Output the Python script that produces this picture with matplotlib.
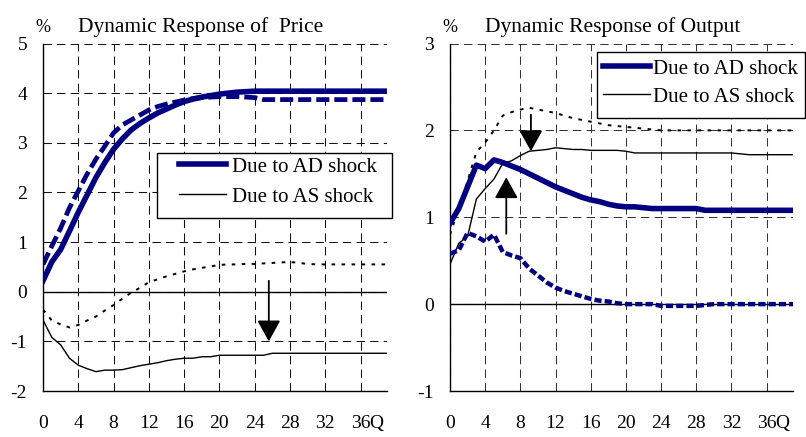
import matplotlib
matplotlib.use("Agg")
import matplotlib.pyplot as plt
from matplotlib.patches import Rectangle
from matplotlib.lines import Line2D
import numpy as np

plt.rcParams['font.family'] = ['Liberation Serif', 'DejaVu Serif']
plt.rcParams['lines.scale_dashes'] = False

# ---------------- data ----------------
quarters = list(range(40))
xticks = [0, 4, 8, 12, 16, 20, 24, 28, 32, 36]
xtick_labels = ['0', '4', '8', '12', '16', '20', '24', '28', '32', '36']

price_ad = [0.22, 0.60, 0.85, 1.22, 1.60, 1.95, 2.30, 2.60, 2.87, 3.08,
            3.26, 3.39, 3.50, 3.60, 3.68, 3.76, 3.83, 3.88, 3.92, 3.95,
            3.98, 4.00, 4.02, 4.03, 4.04, 4.04, 4.04, 4.04, 4.04, 4.04,
            4.04, 4.04, 4.04, 4.04, 4.04, 4.04, 4.04, 4.04, 4.04, 4.04]
price_ad_alt = [0.55, 0.92, 1.28, 1.69, 2.03, 2.37, 2.67, 2.93, 3.20, 3.36,
                3.46, 3.56, 3.66, 3.73, 3.78, 3.82, 3.86, 3.89, 3.91, 3.92,
                3.93, 3.93, 3.93, 3.92, 3.91, 3.87, 3.87, 3.87, 3.87, 3.87,
                3.87, 3.87, 3.87, 3.87, 3.87, 3.87, 3.87, 3.87, 3.87, 3.87]
price_as = [-0.57, -0.92, -1.07, -1.34, -1.48, -1.55, -1.61, -1.58, -1.58, -1.57,
            -1.53, -1.49, -1.46, -1.43, -1.39, -1.36, -1.34, -1.34, -1.31, -1.31,
            -1.28, -1.28, -1.28, -1.28, -1.28, -1.28, -1.24, -1.24, -1.24, -1.24,
            -1.24, -1.24, -1.24, -1.24, -1.24, -1.24, -1.24, -1.24, -1.24, -1.24]
price_as_alt = [-0.36, -0.58, -0.66, -0.72, -0.67, -0.58, -0.50, -0.38, -0.27, -0.14,
                -0.02, 0.08, 0.19, 0.25, 0.31, 0.36, 0.41, 0.45, 0.48, 0.51,
                0.54, 0.55, 0.55, 0.56, 0.56, 0.57, 0.58, 0.59, 0.60, 0.58,
                0.56, 0.55, 0.55, 0.55, 0.55, 0.55, 0.55, 0.55, 0.55, 0.55]

output_ad = [0.93, 1.10, 1.35, 1.60, 1.56, 1.66, 1.63, 1.59, 1.55, 1.50,
             1.45, 1.40, 1.35, 1.31, 1.27, 1.23, 1.20, 1.18, 1.15, 1.13,
             1.12, 1.12, 1.11, 1.10, 1.10, 1.10, 1.10, 1.10, 1.10, 1.08,
             1.08, 1.08, 1.08, 1.08, 1.08, 1.08, 1.08, 1.08, 1.08, 1.08]
output_ad_alt = [0.58, 0.62, 0.82, 0.78, 0.72, 0.80, 0.60, 0.56, 0.53, 0.41,
                 0.33, 0.25, 0.19, 0.15, 0.12, 0.09, 0.06, 0.04, 0.03, 0.01,
                 0.00, 0.00, 0.00, 0.00, -0.02, -0.02, -0.02, -0.02, -0.02, -0.01,
                 0.00, 0.00, 0.00, 0.00, 0.00, 0.00, 0.00, 0.00, 0.00, 0.00]
output_as = [0.46, 0.70, 0.78, 1.21, 1.33, 1.44, 1.62, 1.65, 1.71, 1.76,
             1.77, 1.78, 1.80, 1.79, 1.78, 1.78, 1.77, 1.77, 1.77, 1.77,
             1.76, 1.74, 1.74, 1.74, 1.74, 1.74, 1.74, 1.74, 1.74, 1.74,
             1.74, 1.74, 1.74, 1.73, 1.72, 1.72, 1.72, 1.72, 1.72, 1.72]
output_as_alt = [0.80, 1.10, 1.42, 1.75, 1.86, 2.00, 2.17, 2.21, 2.24, 2.26,
                 2.24, 2.22, 2.20, 2.17, 2.14, 2.12, 2.10, 2.08, 2.06, 2.05,
                 2.04, 2.03, 2.02, 2.01, 2.00, 2.00, 2.00, 2.00, 2.00, 2.00,
                 2.00, 2.00, 2.00, 2.00, 2.00, 2.00, 2.00, 2.00, 2.00, 2.00]

legend_labels = ['Due to AD shock', 'Due to AS shock']
titles = ['Dynamic Response of  Price', 'Dynamic Response of Output']

# arrows: (x, y_from, y_to)
price_arrows = [(25.6, 0.22, -1.0)]
output_arrows = [(9.2, 2.18, 1.76), (6.4, 0.81, 1.46)]

NAVY = '#000080'

# ---------------- figure ----------------
W, H = 806, 437
fig = plt.figure(figsize=(W / 100, H / 100), dpi=100)

def fx(px):
    return px / W

def fy(py):
    return 1 - py / H

ax1 = fig.add_axes([fx(43), fy(391), fx(387) - fx(43), fy(43.5) - fy(391)])
ax2 = fig.add_axes([fx(450), fy(391), fx(793) - fx(450), fy(43.5) - fy(391)])

def style_axes(ax, ylim, yticks, gridcolor):
    ax.set_xlim(0, 39)
    ax.set_ylim(*ylim)
    ax.set_xticks(xticks)
    ax.set_xticklabels(xtick_labels)
    ax.set_yticks(yticks)
    ax.set_yticklabels([str(v) for v in yticks])
    ax.tick_params(axis='both', length=0, labelsize=14)
    ax.tick_params(axis='x', pad=17.5)
    ax.tick_params(axis='y', pad=11.5)
    for s in ['top', 'right']:
        ax.spines[s].set_visible(False)
    for s in ['left', 'bottom']:
        ax.spines[s].set_linewidth(1.0)
        ax.spines[s].set_color('black')
    ax.grid(True, color=gridcolor, linewidth=0.75, dashes=(6.0, 3.8))
    ax.set_axisbelow(True)
    ax.axhline(0, color='black', linewidth=1.0, zorder=1.5)
    ax.annotate('Q', xy=(36, 0), xycoords=('data', 'axes fraction'),
                xytext=(6.5, -17.5), textcoords='offset points',
                ha='left', va='top', fontsize=14)

style_axes(ax1, (-2, 5), [-2, -1, 0, 1, 2, 3, 4, 5], '#111111')
style_axes(ax2, (-1, 3), [-1, 0, 1, 2, 3], '#333333')

# ---- left panel ----
ax1.plot(quarters, price_as_alt, color='black', linewidth=1.4, dashes=(2.6, 4.6), zorder=3)
ax1.plot(quarters, price_as, color='black', linewidth=1.0, zorder=3)
ax1.plot(quarters, price_ad_alt, color=NAVY, linewidth=3.4, dashes=(9.4, 3.6), zorder=4)
ax1.plot(quarters, price_ad, color=NAVY, linewidth=4.0, zorder=5)

# ---- right panel ----
ax2.plot(quarters, output_as_alt, color='black', linewidth=1.4, dashes=(2.6, 4.6), zorder=3)
ax2.plot(quarters, output_as, color='black', linewidth=1.0, zorder=3)
ax2.plot(quarters, output_ad_alt, color=NAVY, linewidth=3.2, dashes=(5.2, 2.2), zorder=4)
ax2.plot(quarters, output_ad, color=NAVY, linewidth=4.0, zorder=5)

# arrows
for ax, arrows in ((ax1, price_arrows), (ax2, output_arrows)):
    for (xa, y0, y1) in arrows:
        ax.annotate('', xy=(xa, y1), xytext=(xa, y0),
                    arrowprops=dict(arrowstyle='-|>,head_length=1.3,head_width=0.72',
                                    color='black', lw=1.3, shrinkA=0, shrinkB=0,
                                    mutation_scale=10),
                    zorder=6)

# titles and % labels
for ax, title in ((ax1, titles[0]), (ax2, titles[1])):
    ax.text(0.102, 1.033, title, transform=ax.transAxes, ha='left', va='baseline',
            fontsize=15.5)
    ax.text(0.0, 1.033, '%', transform=ax.transAxes, ha='center', va='baseline',
            fontsize=13)

# legends (frame drawn separately)
handles = [Line2D([], [], color=NAVY, linewidth=4.0),
           Line2D([], [], color='black', linewidth=1.0)]

def add_legend(ax, box, anchor, labelspacing, textpad):
    x0, y0, x1, y1 = box
    rect = Rectangle((fx(x0), fy(y1)), fx(x1) - fx(x0), fy(y0) - fy(y1),
                     transform=fig.transFigure, facecolor='white', edgecolor='black',
                     linewidth=1.0, zorder=7)
    fig.add_artist(rect)
    leg = ax.legend(handles, legend_labels, loc='upper left',
                    bbox_to_anchor=(fx(anchor[0]), fy(anchor[1])),
                    bbox_transform=fig.transFigure, frameon=False, fontsize=15,
                    borderpad=0, borderaxespad=0, handlelength=2.26,
                    handletextpad=textpad, labelspacing=labelspacing)
    leg.set_zorder(8)
    fig.add_artist(leg)
    return leg

add_legend(ax1, (157, 153, 392, 218), (179, 157), 0.5, 0.26)
add_legend(ax2, (597, 52, 805, 118), (603, 59), 0.4, 0.12)

fig.savefig('out.png', dpi=100)
